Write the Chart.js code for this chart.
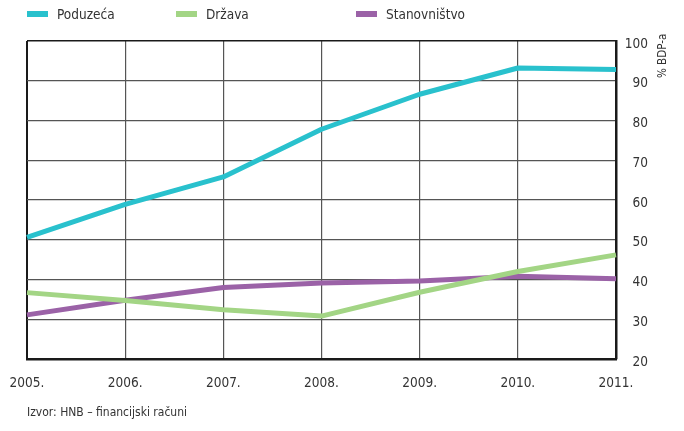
<!DOCTYPE html>
<html><head><meta charset="utf-8">
<script src="https://cdn.jsdelivr.net/npm/chart.js@4"></script>
<style>
html,body{margin:0;padding:0;background:#fff;}
#wrap{position:relative;width:684px;height:431px;font-family:"Liberation Sans Narrow","DejaVu Sans Condensed",sans-serif;color:#333;}
canvas{position:absolute;left:0;top:0;}
.leg{position:absolute;top:6px;font-size:13.5px;display:flex;align-items:center;}
.leg span.m{display:inline-block;width:21px;height:6px;margin-right:9px;}
#unit{position:absolute;left:655px;top:78px;font-size:11.5px;transform:rotate(-90deg);transform-origin:left top;white-space:nowrap;}
#src{position:absolute;left:27px;top:405px;font-size:12px;}
</style></head>
<body><div id="wrap"><canvas id="c" width="684" height="431"></canvas>
<div id="unit">% BDP-a</div>
<div id="src">Izvor: HNB – financijski računi</div>
</div>
<script>
const years = ["2005.","2006.","2007.","2008.","2009.","2010.","2011."];
const poduzeca = [50.6, 58.9, 65.8, 77.8, 86.6, 93.2, 92.8];
const drzava = [36.7, 34.7, 32.4, 30.8, 36.8, 42.0, 46.2];
const stanovnistvo = [31.1, 34.8, 38.0, 39.1, 39.6, 40.8, 40.2];
const seriesNames = ["Poduzeća","Država","Stanovništvo"];
const colors = ["#29c1cd","#a3d585","#9b62a7"];
const legendX = [27, 176, 356];

const wrap = document.getElementById('wrap');
seriesNames.forEach((n,i)=>{
  const d=document.createElement('div');d.className='leg';d.style.left=legendX[i]+'px';
  d.innerHTML='<span class="m" style="background:'+colors[i]+'"></span>'+n;
  wrap.appendChild(d);
});

const FONT = {family:'"Liberation Sans Narrow","DejaVu Sans Condensed",sans-serif', size:13.5};
Chart.defaults.font = FONT;
Chart.defaults.color = '#333';

new Chart(document.getElementById('c'), {
  type:'line',
  data:{labels:years, datasets:[
    {label:seriesNames[0], data:poduzeca, borderColor:colors[0]},
    {label:seriesNames[1], data:drzava, borderColor:colors[1]},
    {label:seriesNames[2], data:stanovnistvo, borderColor:colors[2]}
  ].map(d=>Object.assign(d,{borderWidth:5,pointRadius:0,tension:0,fill:false,borderCapStyle:'butt',borderJoinStyle:'round'}))},
  options:{
    responsive:false, animation:false,
    layout:{padding:{left:27,top:41,right:36,bottom:0}},
    plugins:{legend:{display:false},tooltip:{enabled:false}},
    scales:{
      x:{type:'category', offset:false,
        grid:{drawTicks:false, color:(c)=> (c.index===0||c.index===years.length-1)?'#1a1a1a':'#555', lineWidth:(c)=>(c.index===0)?2:1.2},
        border:{display:true,color:'#1a1a1a',width:2.5},
        ticks:{padding:16, maxRotation:0, font:FONT, color:'#333'},
        afterFit:(s)=>{s.height=72; s.paddingLeft=0; s.paddingRight=0;}
      },
      y:{position:'right', min:20, max:100,
        grid:{drawTicks:false, color:(c)=> (c.tick && (c.tick.value===100))?'#1a1a1a':'#555', lineWidth:(c)=>(c.tick && c.tick.value===100)?1.6:1.2},
        border:{display:true,color:'#1a1a1a',width:2.5},
        ticks:{stepSize:10, padding:10, crossAlign:'far', labelOffset:3, font:FONT, color:'#333'},
        afterFit:(s)=>{s.width=32; s.paddingTop=0; s.paddingBottom=0;}
      }
    }
  }
});
</script>
</body></html>
